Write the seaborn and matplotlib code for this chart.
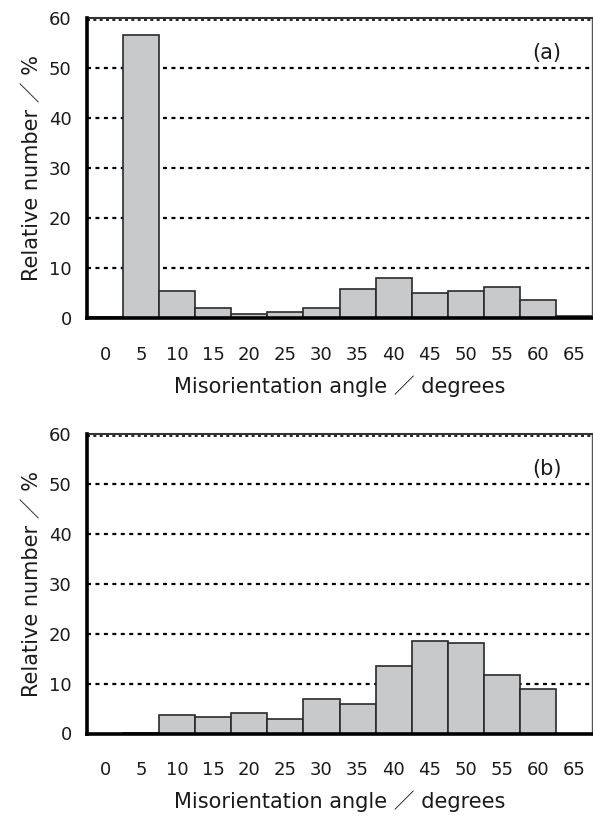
import matplotlib
matplotlib.use("Agg")
import matplotlib.pyplot as plt
import seaborn as sns
import pandas as pd

angles = ["0", "5", "10", "15", "20", "25", "30", "35", "40", "45", "50", "55", "60", "65"]
values_a = [0.1, 56.6, 5.4, 1.9, 0.8, 1.1, 1.9, 5.8, 7.9, 5.0, 5.4, 6.1, 3.6, 0.4]
values_b = [0.0, 0.1, 3.8, 3.3, 4.1, 3.0, 6.9, 5.9, 13.5, 18.5, 18.1, 11.7, 8.9, 0.0]
panel_labels = ["(a)", "(b)"]
y_ticks = [0, 10, 20, 30, 40, 50, 60]
xlabel = "Misorientation angle ／ degrees"
ylabel = "Relative number ／ %"

sns.set_theme(style="white")
plt.rcParams['font.family'] = ['DejaVu Sans', 'Noto Sans CJK JP']

fig = plt.figure(figsize=(5.93, 8.16), dpi=100)
W, H = 593, 816
positions = [(87, 18, 505, 300), (87, 434, 505, 299.5)]

for (vals, lab, (l, t, w, h)) in zip([values_a, values_b], panel_labels, positions):
    ax = fig.add_axes([l / W, 1 - (t + h) / H, w / W, h / H])
    df = pd.DataFrame({"angle": angles, "value": vals})
    sns.barplot(data=df, x="angle", y="value", order=angles, color="#c8c9cb",
                saturation=1, width=1.0, edgecolor="#2a2a2a", linewidth=1.2, ax=ax, zorder=3)
    ax.set_ylim(0, 60)
    ax.set_xlim(-0.5, len(angles) - 0.5)
    ax.set_yticks(y_ticks)
    for yv in y_ticks[1:-1]:
        ax.axhline(yv, color="black", lw=1.6, ls=(0, (1.8, 2.0)), zorder=1)
    ax.axhline(59.6, color="black", lw=1.2, ls=(0, (1.8, 2.0)), zorder=1)
    for s in ["left", "bottom"]:
        ax.spines[s].set_color("black")
        ax.spines[s].set_linewidth(2.6)
        ax.spines[s].set_zorder(5)
    ax.spines["top"].set_color("#333333")
    ax.spines["top"].set_linewidth(1.5)
    ax.spines["right"].set_color("#555555")
    ax.spines["right"].set_linewidth(1.0)
    ax.tick_params(axis="both", length=0, labelsize=13, colors="#1a1a1a")
    ax.tick_params(axis="x", pad=20)
    ax.tick_params(axis="y", pad=11)
    ax.set_xlabel(xlabel, fontsize=15, labelpad=8, color="#1a1a1a")
    ax.set_ylabel(ylabel, fontsize=15, labelpad=5, color="#1a1a1a")
    ax.text(0.911, 0.883, lab, transform=ax.transAxes, ha="center", va="center",
            fontsize=15, color="#1a1a1a")
    ax.set_facecolor("white")

fig.savefig("out.png", dpi=100)
